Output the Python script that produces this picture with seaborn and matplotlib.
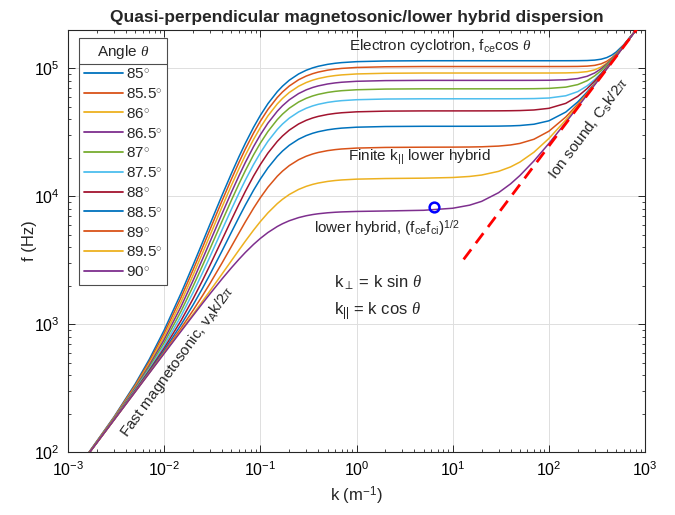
import numpy as np
import pandas as pd
import matplotlib
matplotlib.use("Agg")
import matplotlib.pyplot as plt
import seaborn as sns
from matplotlib.lines import Line2D

# ---------------- data ----------------
angles = ["85", "85.5", "86", "86.5", "87", "87.5", "88", "88.5", "89", "89.5", "90"]

k_vals = [0.0016, 0.003, 0.005, 0.007, 0.01, 0.015, 0.02, 0.025, 0.03, 0.04,
          0.05, 0.06, 0.07, 0.085, 0.1, 0.12, 0.15, 0.17, 0.2, 0.25,
          0.3, 0.35, 0.4, 0.5, 0.6, 0.7, 1, 2, 5, 10,
          15, 20, 30, 40, 50, 70, 100, 150, 200, 250,
          300, 350, 400, 450, 500, 600, 800, 1000]

f_85 = [96.2, 187.6, 340.8, 530.4, 897.3, 1749, 2904, 4350, 6065, 10196,
        15065, 20439, 26091, 34667, 42956, 53099, 65833, 72706, 80953, 90604,
        96876, 101099, 104040, 107729, 109845, 111164, 113076, 114498, 114977, 114977,
        114977, 114977, 114977, 114977, 114977, 114977, 114977, 115000, 115097, 115432,
        116310, 118204, 121647, 127001, 134266, 153153, 198858, 247417]
f_85_5 = [95.9, 185.7, 332.7, 510.3, 847.6, 1621, 2663, 3966, 5511, 9231,
          13615, 18453, 23542, 31261, 38723, 47854, 59317, 65505, 72929, 81617,
          87261, 91065, 93714, 97032, 98940, 100124, 101846, 103129, 103565, 103565,
          103565, 103565, 103565, 103565, 103565, 103565, 103565, 103602, 103767, 104325,
          105761, 108720, 113731, 120879, 129799, 150946, 198277, 247223]
f_86 = [95.6, 184.0, 325.3, 491.6, 800.5, 1496, 2427, 3588, 4963, 8272,
        12171, 16472, 20997, 27860, 34495, 42613, 52805, 58306, 64905, 72632,
        77650, 81030, 83386, 86339, 88031, 89089, 90618, 91756, 92137, 92137,
        92137, 92137, 92137, 92137, 92138, 92141, 92163, 92330, 92939, 94501,
        97639, 102782, 109931, 118745, 128744, 150856, 198463, 247356]
f_86_5 = [95.4, 182.5, 318.5, 474.5, 756.4, 1377, 2198, 3218, 4424, 7321,
          10735, 14500, 18460, 24467, 30274, 37379, 46298, 51112, 56889, 63650,
          68043, 71001, 73062, 75645, 77128, 78052, 79389, 80387, 80724, 80724,
          80724, 80724, 80725, 80729, 80735, 80766, 80900, 81605, 83417, 86891,
          92310, 99576, 108335, 118183, 128788, 151359, 198962, 247702]
f_87 = [95.2, 181.2, 312.6, 459.1, 716.0, 1265, 1978, 2858, 3895, 6383,
        9311, 12540, 15936, 21086, 26065, 32156, 39803, 43930, 48883, 54678,
        58444, 60980, 62747, 64961, 66234, 67024, 68172, 69027, 69320, 69320,
        69320, 69322, 69328, 69342, 69367, 69473, 69850, 71448, 74807, 80219,
        87537, 96352, 106241, 116861, 127979, 151092, 199031, 247823]
f_87_5 = [95.0, 180.0, 307.5, 445.6, 679.9, 1161, 1771, 2514, 3384, 5465,
          7909, 10602, 13434, 17728, 21877, 26955, 33329, 36769, 40896, 45727,
          48866, 50979, 52452, 54297, 55357, 56017, 56974, 57686, 57930, 57930,
          57931, 57933, 57942, 57964, 58004, 58169, 58753, 61161, 65931, 73040,
          81950, 92062, 102934, 114277, 125944, 149761, 198367, 247440]
f_88 = [94.9, 179.1, 303.2, 434.3, 648.9, 1069, 1581, 2192, 2900, 4578,
        6541, 8700, 10969, 14407, 17729, 21792, 26893, 29646, 32950, 36815,
        39326, 41018, 42196, 43673, 44522, 45048, 45814, 46384, 46579, 46581,
        46587, 46597, 46641, 46727, 46867, 47360, 48788, 53359, 60515, 69557,
        79786, 90741, 102146, 113812, 125670, 149718, 198459, 247552]
f_88_5 = [94.8, 178.4, 299.9, 425.3, 623.7, 991.4, 1416, 1904, 2457, 3745,
          5235, 6865, 8573, 11158, 13654, 16705, 20534, 22600, 25078, 27979,
          29863, 31132, 32017, 33125, 33761, 34156, 34731, 35158, 35306, 35309,
          35319, 35337, 35413, 35561, 35802, 36636, 38946, 45607, 54799, 65381,
          76686, 88370, 100280, 112328, 124453, 148864, 197976, 247240]
f_89 = [94.7, 177.8, 297.5, 418.7, 605.1, 931.9, 1284, 1668, 2084, 3012,
        4051, 5168, 6329, 8073, 9750, 11796, 14358, 15739, 17396, 19333,
        20592, 21439, 22029, 22769, 23193, 23458, 23841, 24127, 24229, 24255,
        24311, 24404, 24717, 25221, 25930, 27952, 32279, 41721, 52577, 64064,
        75876, 87870, 99967, 112129, 124329, 148834, 198018, 247297]
f_89_5 = [94.6, 177.5, 296.0, 414.7, 593.6, 894.3, 1199, 1509, 1824, 2470,
          3133, 3803, 4469, 5437, 6343, 7427, 8765, 9480, 10333, 11326,
          11969, 12401, 12702, 13078, 13294, 13429, 13626, 13778, 13871, 14035,
          14304, 14673, 15678, 16985, 18531, 22132, 28301, 39542, 51296, 63277,
          75377, 87547, 99761, 112005, 124271, 148843, 198083, 247386]
f_90 = [94.6, 177.4, 295.5, 413.4, 589.7, 881.4, 1169, 1452, 1729, 2261,
        2759, 3221, 3645, 4206, 4685, 5212, 5806, 6103, 6441, 6815,
        7048, 7200, 7305, 7433, 7506, 7551, 7616, 7680, 7776, 8067,
        8527, 9131, 10672, 12514, 14543, 18919, 25866, 37838, 49994, 62226,
        74497, 86791, 99098, 111415, 123739, 148399, 197749, 247119]

series = [f_85, f_85_5, f_86, f_86_5, f_87, f_87_5, f_88, f_88_5, f_89, f_89_5, f_90]

ion_k = [13, 1000]
ion_f = [3211, 247000]

circle_k = [6.35]
circle_f = [8240]

# ---------------- style ----------------
sns.set_style("ticks")
plt.rcParams['font.family'] = ['Liberation Sans', 'DejaVu Sans']
plt.rcParams['mathtext.fontset'] = 'custom'
plt.rcParams['mathtext.rm'] = 'Liberation Sans'
plt.rcParams['mathtext.it'] = 'Liberation Serif:italic'
plt.rcParams['mathtext.bf'] = 'Liberation Sans:bold'
plt.rcParams['axes.unicode_minus'] = False

matlab = ["#0072BD", "#D95319", "#EDB120", "#7E2F8E", "#77AC30", "#4DBEEE", "#A2142F"]
colors = [matlab[i % 7] for i in range(len(angles))]

rows = []
for ang, fs in zip(angles, series):
    for k, f in zip(k_vals, fs):
        rows.append({"k": k, "f": f, "angle": ang})
df = pd.DataFrame(rows)

fig = plt.figure(figsize=(6.75, 5.15), dpi=100)
ax = fig.add_axes([68 / 675, 1 - 452 / 515, 577 / 675, 422 / 515])

sns.lineplot(data=df, x="k", y="f", hue="angle", hue_order=angles,
             palette=colors, estimator=None, sort=False, lw=1.1,
             legend=False, ax=ax)

ax.plot(ion_k, ion_f, color=(1, 0, 0), lw=2.0, ls=(0, (4.5, 2.8)), zorder=5)
ax.plot(circle_k, circle_f, 'o', mfc='none', mec=(0, 0, 1), ms=7, mew=1.8, zorder=6)

ax.set_xscale('log')
ax.set_yscale('log')
ax.set_xlim(1e-3, 1e3)
ax.set_ylim(1e2, 2e5)

ax.grid(True, which='major', color='0.87', lw=0.7)
ax.tick_params(which='both', direction='in', top=True, right=True,
               colors='0.15', labelsize=11.5, pad=6)
ax.tick_params(which='major', length=5, width=0.7)
ax.tick_params(which='minor', length=2.5, width=0.6)
for tl in ax.get_xticklabels() + ax.get_yticklabels():
    tl.set_color('black')
for s in ax.spines.values():
    s.set_color('0.15')
    s.set_linewidth(0.8)

ax.set_xlabel(r"k (m$^{\mathrm{-1}}$)", fontsize=12, labelpad=4)
ax.set_ylabel("f (Hz)", fontsize=12)
ax.yaxis.set_label_coords(-0.054, 0.5)
ax.set_title("Quasi-perpendicular magnetosonic/lower hybrid dispersion",
             fontsize=12.5, fontweight='bold', pad=6)

tfs = 11
ax.text(0.84, 1.5e5, r"Electron cyclotron, f$_{\mathrm{ce}}$cos $\theta$",
        fontsize=tfs, ha='left', va='center')
ax.text(0.82, 2.0e4, r"Finite k$_{||}$ lower hybrid", fontsize=tfs,
        ha='left', va='center')
ax.text(0.36, 5.6e3, r"lower hybrid, (f$_{\mathrm{ce}}$f$_{\mathrm{ci}}$)$^{\mathrm{1/2}}$",
        fontsize=tfs, ha='left', va='center')
ax.text(0.58, 2.1e3, r"k$_{\perp}$ = k sin $\theta$", fontsize=12,
        ha='left', va='center')
ax.text(0.58, 1.24e3, r"k$_{||}$ = k cos $\theta$", fontsize=12,
        ha='left', va='center')
ax.text(0.0137, 505, r"Fast magnetosonic, v$_{\mathrm{A}}$k/2$\pi$", fontsize=tfs,
        rotation=54, ha='center', va='center', rotation_mode='anchor')
ax.text(262, 3.39e4, r"Ion sound, C$_{\mathrm{s}}$k/2$\pi$", fontsize=tfs,
        rotation=53, ha='center', va='center', rotation_mode='anchor')

handles = [Line2D([0], [0], color=c, lw=1.3) for c in colors]
labels = [a + r"$^{\circ}$" for a in angles]
leg = ax.legend(handles, labels, title=r"Angle $\theta$", loc='upper left',
                bbox_to_anchor=(11 / 577, 1 - 8 / 422), borderaxespad=0,
                fontsize=11, title_fontsize=11, handlelength=2.5,
                handletextpad=0.2, labelspacing=0.38, fancybox=False,
                framealpha=1, edgecolor='0.3', borderpad=0.35)
leg.get_frame().set_linewidth(0.8)

fig.canvas.draw()
tb = leg.get_title().get_window_extent()
fb = leg.get_frame().get_window_extent()
ysep = tb.y0 - 3
fig.add_artist(Line2D([fb.x0, fb.x1], [ysep, ysep], transform=None,
                      color='0.3', lw=0.8))

fig.savefig("out.png", dpi=100)
